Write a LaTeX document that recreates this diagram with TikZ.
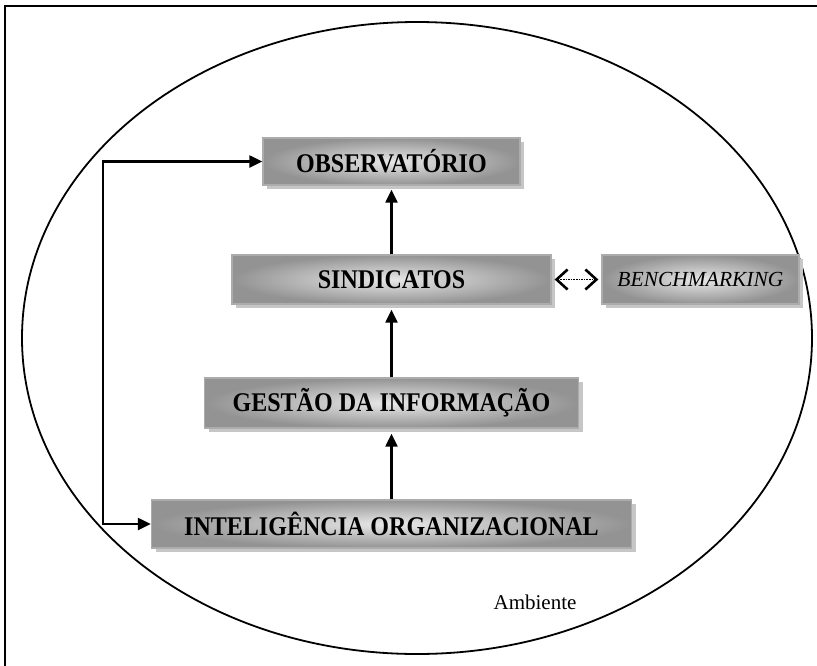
\documentclass[tikz,border=0pt]{standalone}
\usepackage{fontspec}
\setmainfont{Liberation Serif}
\newfontfamily\boxserif[FakeStretch=0.89]{Liberation Serif}
\usetikzlibrary{shadows,arrows.meta}
\begin{document}
\begin{tikzpicture}[x=1pt,y=-1pt,
  boxnode/.style={draw=gray!65, line width=1.3pt, rectangle, inner sep=0pt,
    inner color=gray!18, outer color=gray!85,
    drop shadow={shadow xshift=4pt, shadow yshift=-4pt, fill=gray!45, opacity=1},
    font=\boxserif\fontsize{27}{31}\selectfont\bfseries},
  arr/.style={line width=2.2pt, -{Triangle[length=13pt,width=12pt]}},
]
\useasboundingbox (0,0) rectangle (817,665);
% frame
\draw[line width=2.4pt] (5,666) -- (5,6) -- (818,6);
% ellipse
\draw[line width=1.8pt] (417,338) ellipse [x radius=395, y radius=316];

\node[boxnode, minimum width=257pt, minimum height=47pt] (obs) at (391.5,161.5) {OBSERVATÓRIO};
\node[boxnode, minimum width=319pt, minimum height=49pt] (sin) at (391.5,279.5) {SINDICATOS};
\node[boxnode, minimum width=197pt, minimum height=49pt, font=\fontsize{21.5}{25}\selectfont\itshape] (ben) at (700.5,279.5) {BENCHMARKING};
\node[boxnode, minimum width=374pt, minimum height=50pt] (ges) at (391.5,403) {GESTÃO DA INFORMAÇÃO};
\node[boxnode, minimum width=480pt, minimum height=48pt] (int) at (391.5,524) {INTELIGÊNCIA ORGANIZACIONAL};

\node[font=\fontsize{21}{25}\selectfont] (amb) at (535,602) {Ambiente};

\draw[arr] (sin.north) -- ([yshift=-4pt]obs.south);
\draw[arr] (ges.north) -- ([yshift=-5pt]sin.south);
\draw[arr] (int.north) -- ([yshift=-5pt]ges.south);

\coordinate (lc) at (103,340);
\draw[line width=2.2pt, {Triangle[length=13pt,width=12pt]}-{Triangle[length=13pt,width=12pt]}]
  (obs.west) -| (lc) |- (int.west);

\draw[line width=1.6pt, densely dotted, {Straight Barb[length=11pt,width=20pt,line width=2.6pt]}-{Straight Barb[length=11pt,width=20pt,line width=2.6pt]}]
  ([xshift=3pt]sin.east) -- ([xshift=-3pt]ben.west);
\end{tikzpicture}
\end{document}
